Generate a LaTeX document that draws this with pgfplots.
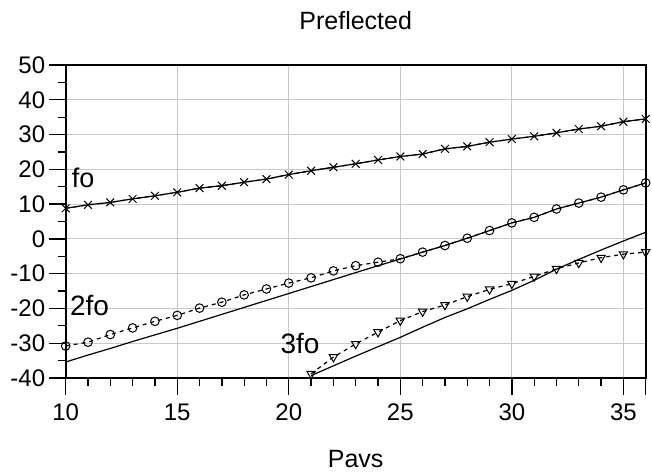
\documentclass[border=0pt]{standalone}
\usepackage{fontspec}
\setmainfont{Liberation Sans}
\usepackage{pgfplots}
\pgfplotsset{compat=1.18}
\definecolor{gridgray}{RGB}{200,200,200}
\begin{document}
\begin{tikzpicture}
\path[use as bounding box] (-65.7pt,-94pt) rectangle (586.3pt,378pt);
\begin{axis}[
  at={(0,0)}, anchor=south west,
  scale only axis, width=580pt, height=313pt,
  xmin=10, xmax=36, ymin=-40, ymax=50,
  xtick={10,15,20,25,30,35},
  xticklabels={10,15,20,25,30,35},
  ytick={-40,-30,-20,-10,0,10,20,30,40,50},
  yticklabels={-40,-30,-20,-10,0,10,20,30,40,50},
  minor xtick={11,12,13,14,16,17,18,19,21,22,23,24,26,27,28,29,31,32,33,34},
  minor ytick={-35,-25,-15,-5,5,15,25,35,45},
  extra x ticks={36}, extra x tick labels={},
  extra x tick style={grid=none},
  tick pos=left, tick align=outside,
  major tick length=17pt, minor tick length=8pt,
  tick style={black, line width=1.3pt},
  grid=major, major grid style={gridgray, line width=1.1pt},
  axis line style={black, line width=1.7pt},
  ticklabel style={font=\fontsize{24pt}{26pt}\selectfont},
  xticklabel style={yshift=-5pt},
  title={Preflected},
  title style={font=\fontsize{25pt}{28pt}\selectfont, at={(0.5,1)}, anchor=base, yshift=30pt, inner sep=0pt},
  xlabel={Pavs},
  xlabel style={font=\fontsize{25pt}{28pt}\selectfont, at={(axis description cs:0.5,0)}, anchor=base, yshift=-89pt, inner sep=0pt},
  clip=false,
]
% fo
\addplot[black, line width=1.2pt] coordinates {
(10,8.8)(11,9.8)(12,10.5)(13,11.5)(14,12.4)(15,13.4)(16,14.6)(17,15.3)(18,16.3)(19,17.2)(20,18.5)(21,19.6)(22,20.6)(23,21.6)(24,22.7)(25,23.7)(26,24.4)(27,25.9)(28,26.6)(29,27.8)(30,28.7)(31,29.5)(32,30.5)(33,31.6)(34,32.4)(35,33.7)(36,34.5)};
\addplot[black, line width=1.2pt, dash pattern=on 4pt off 4pt, mark=x, mark size=5.5pt, mark options={solid, line width=1pt}] coordinates {
(10,8.8)(11,9.8)(12,10.5)(13,11.5)(14,12.4)(15,13.4)(16,14.6)(17,15.3)(18,16.3)(19,17.2)(20,18.5)(21,19.6)(22,20.6)(23,21.6)(24,22.7)(25,23.7)(26,24.4)(27,25.9)(28,26.6)(29,27.8)(30,28.7)(31,29.5)(32,30.5)(33,31.6)(34,32.4)(35,33.7)(36,34.5)};
% 2fo solid
\addplot[black, line width=1.2pt] coordinates {
(10,-35.4)(11,-33.4)(12,-31.5)(13,-29.5)(14,-27.6)(15,-25.7)(16,-23.7)(17,-21.7)(18,-19.7)(19,-17.7)(20,-15.7)(21,-13.7)(22,-11.7)(23,-9.7)(24,-7.7)(25,-5.8)(26,-3.8)(27,-1.9)(28,0.2)(29,2.4)(30,4.6)(31,6.2)(32,8.6)(33,10.3)(34,12.0)(35,14.1)(36,16.1)};
% 2fo markers
\addplot[black, line width=1.2pt, dash pattern=on 4pt off 4pt, mark=o, mark size=4.3pt, mark options={solid, line width=1pt}] coordinates {
(10,-30.8)(11,-29.7)(12,-27.5)(13,-25.6)(14,-23.7)(15,-22.0)(16,-19.9)(17,-18.2)(18,-16.1)(19,-14.4)(20,-12.7)(21,-11.2)(22,-9.2)(23,-7.7)(24,-6.7)(25,-5.7)(26,-3.8)(27,-1.9)(28,0.2)(29,2.4)(30,4.6)(31,6.2)(32,8.6)(33,10.3)(34,12.0)(35,14.1)(36,16.1)};
% 3fo solid
\addplot[black, line width=1.2pt] coordinates {
(21,-39.3)(22,-36.5)(23,-33.7)(24,-31.0)(25,-28.3)(26,-25.4)(27,-22.6)(28,-20.1)(29,-17.4)(30,-14.8)(31,-11.9)(32,-8.7)(33,-5.9)(34,-3.2)(35,-0.6)(36,1.9)};
% 3fo markers
\addplot[black, line width=1.2pt, dash pattern=on 4pt off 4pt, mark=triangle, mark size=4.8pt, mark options={solid, rotate=180, line width=1pt}] coordinates {
(21,-38.8)(22,-34.0)(23,-30.2)(24,-26.8)(25,-23.5)(26,-20.9)(27,-19.0)(28,-16.6)(29,-14.5)(30,-12.9)(31,-10.8)(32,-8.6)(33,-6.9)(34,-5.4)(35,-4.4)(36,-3.8)};
\node[anchor=base west, inner sep=0pt, font=\fontsize{27pt}{30pt}\selectfont] at (axis cs:10.27,14.9) {fo};
\node[anchor=base west, inner sep=0pt, font=\fontsize{28pt}{30pt}\selectfont] at (axis cs:10.19,-22.0) {2fo};
\node[anchor=base west, inner sep=0pt, font=\fontsize{28pt}{30pt}\selectfont] at (axis cs:19.62,-33.0) {3fo};
\end{axis}
\end{tikzpicture}
\end{document}
